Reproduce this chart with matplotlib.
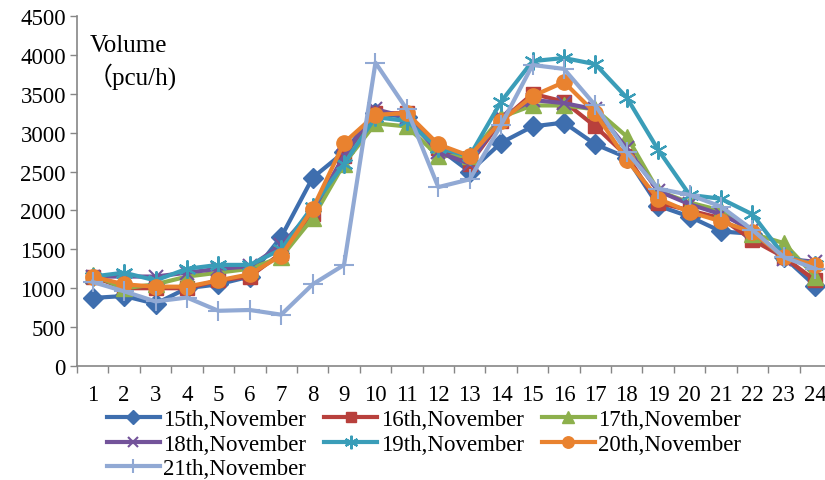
import numpy as np
import matplotlib
matplotlib.use('Agg')
import matplotlib.pyplot as plt

plt.rcParams['font.family'] = ['Liberation Serif', 'Noto Sans CJK SC']

hours = list(range(1, 25))

nov15 = [875, 900, 800, 1000, 1050, 1150, 1660, 2420, 2750, 3250, 3200, 2800,
         2500, 2870, 3080, 3130, 2850, 2680, 2060, 1920, 1730, 1700, 1400, 1030]
nov16 = [1150, 1000, 1000, 1000, 1100, 1150, 1450, 1950, 2700, 3250, 3250, 2800,
         2600, 3150, 3500, 3400, 3080, 2700, 2100, 2000, 1900, 1620, 1400, 1100]
nov17 = [1170, 1000, 1050, 1150, 1200, 1250, 1400, 1900, 2600, 3120, 3080, 2700,
         2700, 3200, 3350, 3350, 3300, 2950, 2250, 2100, 2000, 1700, 1580, 1150]
nov18 = [1150, 1150, 1150, 1200, 1250, 1280, 1550, 2000, 2700, 3300, 3200, 2750,
         2600, 3200, 3420, 3380, 3300, 2800, 2250, 2080, 1950, 1750, 1380, 1340]
nov19 = [1150, 1200, 1100, 1250, 1300, 1300, 1500, 2050, 2600, 3200, 3150, 2800,
         2700, 3400, 3920, 3960, 3880, 3450, 2780, 2200, 2150, 1950, 1420, 1300]
nov20 = [1150, 1050, 1020, 1020, 1100, 1180, 1420, 2020, 2870, 3230, 3250, 2850,
         2700, 3150, 3470, 3650, 3250, 2650, 2150, 1980, 1860, 1720, 1400, 1300]
nov21 = [1080, 960, 830, 880, 710, 720, 660, 1050, 1300, 3900, 3300, 2300,
         2400, 3100, 3870, 3820, 3350, 2750, 2280, 2200, 2050, 1750, 1400, 1250]

series = [
    ('15th,November', nov15, '#3E6EAE', 'D', 10),
    ('16th,November', nov16, '#B8403C', 's', 10),
    ('17th,November', nov17, '#8DB04C', '^', 11),
    ('18th,November', nov18, '#73539A', 'x', 10),
    ('19th,November', nov19, '#3A9DB8', (6, 2, 0), 13),
    ('20th,November', nov20, '#E9822F', 'o', 11),
    ('21th,November', nov21, '#91A9D4', '+', 14),
]

fig = plt.figure(figsize=(8.25, 4.81), dpi=100)
ax = fig.add_axes([77 / 825, 1 - 367 / 481, (831 - 77) / 825, 350 / 481])

handles = []
for label, vals, color, marker, ms in series:
    thin = marker in ('x', '+') or isinstance(marker, tuple)
    h, = ax.plot(hours, vals, color=color, lw=3, marker=marker, ms=ms,
                 mfc=color, mec=color, mew=1.5 if thin else 1, label=label)
    handles.append(h)

ax.set_xlim(0.5, 24.5)
ax.set_ylim(0, 4500)
ax.set_yticks(np.arange(0, 4501, 500))
ax.set_xticks(hours)
ax.set_xticks(np.arange(0.5, 25, 1), minor=True)
ax.tick_params(axis='x', which='major', length=0, labelsize=16.5, pad=13)
ax.tick_params(axis='x', which='minor', length=5, color='#868686', width=1)
ax.tick_params(axis='y', length=5, color='#868686', width=1, labelsize=16.5, pad=3)

for s in ['top', 'right']:
    ax.spines[s].set_visible(False)
for s in ['left', 'bottom']:
    ax.spines[s].set_color('#868686')
    ax.spines[s].set_linewidth(1.2)

fig.text(90 / 825, 1 - 46 / 481, 'Volume', fontsize=18, va='center', ha='left')
fig.text(88 / 825, 1 - 77 / 481, '（pcu/h)', fontsize=18, va='center', ha='left')

# legend fills column-wise, reorder so it reads row by row
order = [0, 3, 6, 1, 4, 2, 5]
fig.legend([handles[i] for i in order], [series[i][0] for i in order],
           loc='upper left', bbox_to_anchor=(107 / 825, 1 - 410 / 481), ncol=3,
           frameon=False, fontsize=16.5, handlelength=2.3, handletextpad=0.15,
           columnspacing=0.8, labelspacing=0.15, borderaxespad=0, borderpad=0,
           markerscale=0.75)

fig.savefig('out.png', dpi=100)
